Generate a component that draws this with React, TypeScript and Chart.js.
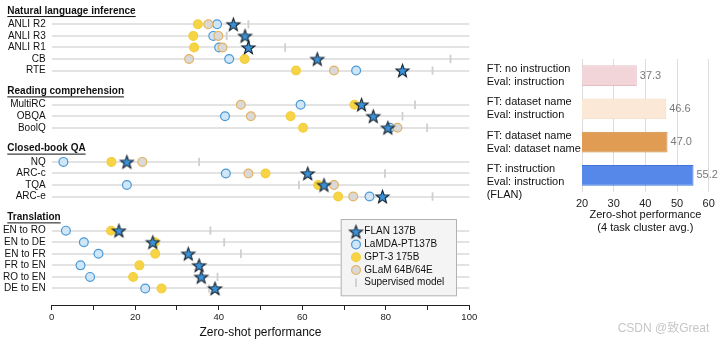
import React, { useEffect, useRef } from 'react';
import { Chart, registerables } from 'chart.js';

Chart.register(...registerables);

const FONT = "'Liberation Sans', Arial, Helvetica, 'Noto Sans CJK SC', sans-serif";

// ---------------- data: left panel ----------------
const groups = ['Natural language inference', 'Reading comprehension', 'Closed-book QA', 'Translation'];
const groupSizes = [5, 3, 4, 6];
const tasks = [
  'ANLI R2', 'ANLI R3', 'ANLI R1', 'CB', 'RTE',
  'MultiRC', 'OBQA', 'BoolQ',
  'NQ', 'ARC-c', 'TQA', 'ARC-e',
  'EN to RO', 'EN to DE', 'EN to FR', 'FR to EN', 'RO to EN', 'DE to EN',
];
const flan = [43.5, 46.3, 47.1, 63.6, 84.0, 74.2, 77.0, 80.5, 18.0, 61.3, 65.2, 79.2, 16.1, 24.2, 32.7, 35.3, 35.8, 39.1];
const lamda = [39.6, 38.7, 40.1, 42.5, 72.9, 59.6, 41.5, 81.0, 2.8, 41.7, 18.0, 76.1, 3.4, 7.7, 11.2, 6.9, 9.2, 22.4];
const gpt3 = [35.0, 33.9, 34.1, 46.2, 58.5, 72.5, 57.2, 60.2, 14.3, 51.2, 63.8, 68.6, 14.2, 24.7, 24.8, 21.0, 19.5, 26.3];
const glam = [37.5, 39.9, 40.9, 32.9, 67.6, 45.3, 47.7, 82.8, 21.7, 47.1, 67.6, 72.2, null, null, null, null, null, null];
const supervised = [47.1, 41.9, 55.9, 95.5, 91.2, 87.0, 84.0, 89.9, 35.3, 79.8, 59.2, 91.2, 38.0, 41.3, 45.3, 35.0, 39.7, 37.7];
const legendLabels = ['FLAN 137B', 'LaMDA-PT137B', 'GPT-3 175B', 'GLaM 64B/64E', 'Supervised model'];
const xAxisTitle = 'Zero-shot performance';

// ---------------- data: right panel ----------------
const ablationLabels = [
  ['FT: no instruction', 'Eval: instruction'],
  ['FT: dataset name', 'Eval: instruction'],
  ['FT: dataset name', 'Eval: dataset name'],
  ['FT: instruction', 'Eval: instruction', '(FLAN)'],
];
const ablationValues = [37.3, 46.6, 47.0, 55.2];
const ablationTitle = ['Zero-shot performance', '(4 task cluster avg.)'];
const watermark = 'CSDN @致Great';

// ---------------- layout helpers ----------------
const HEADER_GAP = 1.15;
const GROUP_GAP = 1.8;
function computePositions() {
  const headerPos: number[] = [];
  const rowPos: number[] = [];
  let u = 0;
  groupSizes.forEach((n, g) => {
    if (g > 0) u += GROUP_GAP;
    headerPos.push(u);
    u += HEADER_GAP;
    for (let i = 0; i < n; i++) {
      if (i > 0) u += 1;
      rowPos.push(u);
    }
  });
  return { headerPos, rowPos };
}

function makeStar(size: number, outer: number, inner: number) {
  const c = document.createElement('canvas');
  c.width = size;
  c.height = size;
  const ctx = c.getContext('2d')!;
  ctx.beginPath();
  for (let i = 0; i < 10; i++) {
    const r = i % 2 === 0 ? outer : inner;
    const a = -Math.PI / 2 + (i * Math.PI) / 5;
    const px = size / 2 + r * Math.cos(a);
    const py = size / 2 + 0.6 + r * Math.sin(a);
    if (i === 0) ctx.moveTo(px, py);
    else ctx.lineTo(px, py);
  }
  ctx.closePath();
  ctx.fillStyle = '#3b92d8';
  ctx.fill();
  ctx.lineWidth = 1.1;
  ctx.lineJoin = 'miter';
  ctx.strokeStyle = '#17212b';
  ctx.stroke();
  return c;
}

const STYLE = {
  lamda: { bg: '#cfe6f8', border: '#4a98d3' },
  gpt3: { bg: '#f6d445', border: '#f2cf3e' },
  glam: { bg: '#d9d9d9', border: '#e4b35e' },
  sup: '#cfcfcf',
};

export default function App() {
  const leftRef = useRef<HTMLCanvasElement | null>(null);
  const rightRef = useRef<HTMLCanvasElement | null>(null);

  useEffect(() => {
    const { headerPos, rowPos } = computePositions();
    const star = makeStar(17, 6.8, 2.8);
    const pts = (arr: (number | null)[]) =>
      arr.map((v, i) => (v == null ? null : { x: v, y: rowPos[i] })).filter((p) => p !== null) as { x: number; y: number }[];

    const leftPlugin = {
      id: 'leftDecor',
      afterDraw(chart: any) {
        const ctx = chart.ctx as CanvasRenderingContext2D;
        const ys = chart.scales.y;
        ctx.save();
        // group headers
        ctx.font = `bold 10px ${FONT}`;
        ctx.fillStyle = '#111';
        ctx.textAlign = 'left';
        ctx.textBaseline = 'middle';
        groups.forEach((g, i) => {
          const yy = ys.getPixelForValue(headerPos[i]);
          ctx.fillText(g, 7.3, yy);
          const w = ctx.measureText(g).width;
          ctx.fillRect(7.3, yy + 5, w, 1);
        });
        // legend box
        const bx = 340.7, by = 219, bw = 115.3, bh = 76.3;
        ctx.fillStyle = '#f4f4f4';
        ctx.fillRect(bx, by, bw, bh);
        ctx.strokeStyle = '#b3b3b3';
        ctx.lineWidth = 1;
        ctx.strokeRect(bx + 0.5, by + 0.5, bw, bh);
        const sx = 356, tx = 364.3, y0 = 231.7, step = 12.75;
        ctx.font = `10px ${FONT}`;
        legendLabels.forEach((t, i) => {
          const yy = y0 + i * step;
          if (i === 0) {
            ctx.drawImage(star, sx - star.width / 2, yy - star.height / 2);
          } else if (i <= 3) {
            const st = i === 1 ? STYLE.lamda : i === 2 ? STYLE.gpt3 : STYLE.glam;
            ctx.beginPath();
            ctx.arc(sx, yy, 4.4, 0, Math.PI * 2);
            ctx.fillStyle = st.bg;
            ctx.fill();
            ctx.lineWidth = 1.2;
            ctx.strokeStyle = st.border;
            ctx.stroke();
          } else {
            ctx.beginPath();
            ctx.moveTo(sx, yy - 4.2);
            ctx.lineTo(sx, yy + 4.2);
            ctx.lineWidth = 1.8;
            ctx.strokeStyle = STYLE.sup;
            ctx.stroke();
          }
          ctx.fillStyle = '#111';
          ctx.fillText(t, tx, yy);
        });
        ctx.restore();
      },
    };

    const left = new Chart(leftRef.current!, {
      type: 'scatter',
      data: {
        datasets: [
          { label: legendLabels[0], data: pts(flan), pointStyle: star as any, pointRadius: 6, order: 0 },
          {
            label: legendLabels[3], data: pts(glam), pointRadius: 4.4, pointBorderWidth: 1.2,
            pointBackgroundColor: STYLE.glam.bg, pointBorderColor: STYLE.glam.border, order: 1,
          },
          {
            label: legendLabels[1], data: pts(lamda), pointRadius: 4.4, pointBorderWidth: 1.2,
            pointBackgroundColor: STYLE.lamda.bg, pointBorderColor: STYLE.lamda.border, order: 2,
          },
          {
            label: legendLabels[2], data: pts(gpt3), pointRadius: 4.4, pointBorderWidth: 1.2,
            pointBackgroundColor: STYLE.gpt3.bg, pointBorderColor: STYLE.gpt3.border, order: 3,
          },
          {
            label: legendLabels[4], data: pts(supervised), pointStyle: 'line', pointRotation: 90,
            pointRadius: 4.2, pointBorderWidth: 1.8, pointBorderColor: STYLE.sup, pointBackgroundColor: STYLE.sup, order: 4,
          },
        ] as any,
      },
      options: {
        animation: false,
        responsive: false,
        layout: { padding: { left: 0, right: 10.7, top: 2.5, bottom: 0 } },
        plugins: { legend: { display: false }, tooltip: { enabled: false } },
        scales: {
          x: {
            type: 'linear',
            min: 0,
            max: 100,
            ticks: {
              stepSize: 10,
              color: '#222',
              font: { family: FONT, size: 9.5 },
              padding: 2,
              maxRotation: 0,
              callback: (v: any) => (Number(v) % 20 === 0 ? String(v) : ''),
            },
            grid: { drawOnChartArea: false, drawTicks: true, tickLength: 5, color: '#222', tickColor: '#222' },
            border: { display: true, color: '#222', width: 1 },
            title: {
              display: true,
              text: xAxisTitle,
              color: '#111',
              font: { family: FONT, size: 12 },
              padding: { top: 0, bottom: 1 },
            },
            afterFit: (s: any) => {
              s.height = 36;
              s.paddingLeft = 0;
              s.paddingRight = 0;
            },
          },
          y: {
            type: 'linear',
            reverse: true,
            min: -0.35,
            max: 25.43,
            afterBuildTicks: (s: any) => {
              s.ticks = rowPos.map((v) => ({ value: v }));
            },
            ticks: {
              autoSkip: false,
              color: '#111',
              font: { family: FONT, size: 10 },
              padding: 6,
              callback: (_v: any, i: number) => tasks[i],
            },
            grid: { color: '#e3e3e3', lineWidth: 2, drawTicks: false },
            border: { display: false },
            afterFit: (s: any) => {
              s.width = 51.7;
              s.paddingTop = 0;
              s.paddingBottom = 0;
            },
          },
        },
      } as any,
      plugins: [leftPlugin],
    });

    const rightPlugin = {
      id: 'rightDecor',
      afterDraw(chart: any) {
        const ctx = chart.ctx as CanvasRenderingContext2D;
        const meta = chart.getDatasetMeta(0);
        ctx.save();
        ctx.font = `11px ${FONT}`;
        ctx.textBaseline = 'middle';
        ctx.textAlign = 'left';
        ablationLabels.forEach((lines, i) => {
          const el = meta.data[i];
          const cy = el.y;
          ctx.fillStyle = '#111';
          lines.forEach((t, j) => ctx.fillText(t, 16.7, cy - 6.5 + j * 13));
          ctx.fillStyle = '#7a7a7a';
          ctx.fillText(ablationValues[i].toFixed(1), el.x + 3, cy);
        });
        ctx.font = `12px ${FONT}`;
        ctx.fillStyle = '#c6c6c6';
        ctx.fillText(watermark, 147.7, 328.3);
        ctx.restore();
      },
    };

    const right = new Chart(rightRef.current!, {
      type: 'bar',
      data: {
        labels: ablationLabels.map((l) => l.join(' ')),
        datasets: [
          {
            data: ablationValues,
            backgroundColor: ['#f1d5d8', '#fbe8d7', '#e09c53', '#5588e9'],
            borderColor: ['#e3bfc3', '#f2d9c2', '#c98a44', '#3f74d8'],
            borderWidth: 1,
            barPercentage: 0.63,
            categoryPercentage: 1,
          },
        ],
      },
      options: {
        indexAxis: 'y',
        animation: false,
        responsive: false,
        layout: { padding: { left: 112, right: 11.3, top: 59, bottom: 106 } },
        plugins: { legend: { display: false }, tooltip: { enabled: false } },
        scales: {
          x: {
            min: 20,
            max: 60,
            ticks: { stepSize: 10, color: '#222', font: { family: FONT, size: 11 }, padding: 5, maxRotation: 0 },
            grid: { color: '#dddddd', drawTicks: false },
            border: { display: false },
            title: {
              display: true,
              text: ablationTitle,
              color: '#111',
              font: { family: FONT, size: 11, lineHeight: 1.2 },
              padding: { top: 0, bottom: 0 },
            },
            afterFit: (s: any) => {
              s.height = 43;
              s.paddingLeft = 0;
              s.paddingRight = 0;
            },
          },
          y: { display: false },
        },
      } as any,
      plugins: [rightPlugin],
    });

    return () => {
      left.destroy();
      right.destroy();
    };
  }, []);

  return (
    <div style={{ position: 'absolute', left: 0, top: 0, width: 720, height: 341, background: '#fff' }}>
      <canvas ref={leftRef} width={480} height={341} style={{ position: 'absolute', left: 0, top: 0, width: 480, height: 341 }} />
      <canvas ref={rightRef} width={250} height={341} style={{ position: 'absolute', left: 470, top: 0, width: 250, height: 341 }} />
    </div>
  );
}
